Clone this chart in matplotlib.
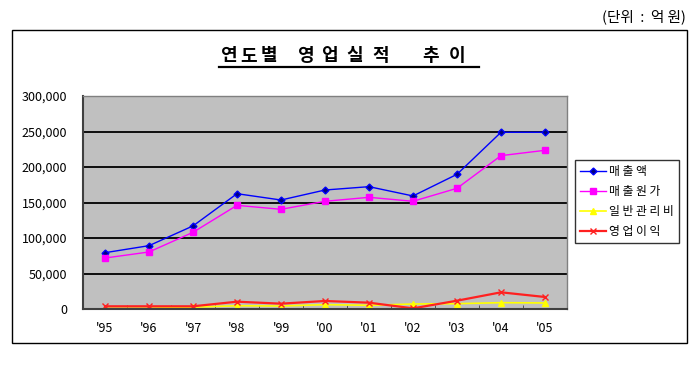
import matplotlib
matplotlib.use("Agg")
import matplotlib.pyplot as plt
from matplotlib.patches import Rectangle
from matplotlib.ticker import FuncFormatter, FixedLocator
import numpy as np

plt.rcParams['font.family'] = ['Noto Sans CJK KR', 'DejaVu Sans']

years = ["'95", "'96", "'97", "'98", "'99", "'00", "'01", "'02", "'03", "'04", "'05"]
sales = [79300, 89200, 117000, 162400, 153500, 167600, 172300, 159200, 189700, 248900, 248900]
cost = [71800, 80300, 108000, 146000, 140400, 151700, 157300, 151700, 170000, 216000, 223500]
admin = [1000, 1200, 2500, 4600, 4200, 6100, 5200, 7000, 7500, 8900, 8500]
profit = [3800, 3800, 3800, 10300, 7500, 11300, 8900, 900, 11700, 23500, 16900]
labels = ["매 출 액", "매 출 원 가", "일 반 관 리 비", "영 업 이 익"]
title = "연도별 영업실적 추이"
unit_label = "(단위  :  억 원)"

W, H = 699, 367
fig = plt.figure(figsize=(W/100, H/100), dpi=100)
fig.patch.set_facecolor('white')

def fx(px):
    return px / W

def fy(py):
    return 1 - py / H

# outer frame
fig.patches.append(Rectangle((fx(12), fy(343)), (687-12)/W, (343-30)/H,
                             transform=fig.transFigure, fill=False, edgecolor='black', lw=1.0))

fig.text(fx(686), fy(17), unit_label, ha='right', va='center', fontsize=10.5)

# title drawn character by character for wide letter spacing
title_chars = [c for c in title if c != ' ']
char_px = [228, 248.5, 269, 305, 329, 355, 381, 431, 457]
for c, px in zip(title_chars, char_px):
    fig.text(fx(px), fy(55.5), c, ha='center', va='center', fontsize=13, fontweight='bold')
fig.add_artist(plt.Line2D([fx(219), fx(479)], [fy(67.3), fy(67.3)], color='black', lw=1.6,
                          transform=fig.transFigure))

ax = fig.add_axes([fx(83), fy(309), (567-83)/W, (309-96)/H])
ax.set_facecolor('#C0C0C0')
x = np.arange(len(years))
ax.plot(x, sales, color='#0000FF', lw=1.0, marker='D', ms=3.5, mfc='#000080', mec='#0000FF', label=labels[0])
ax.plot(x, cost, color='#FF00FF', lw=1.0, marker='s', ms=5, label=labels[1])
ax.plot(x, admin, color='#FFFF00', lw=1.2, marker='^', ms=5, label=labels[2])
ax.plot(x, profit, color='#FF2020', lw=1.6, marker='x', ms=4, mew=1.0, label=labels[3])

ax.set_xlim(-0.5, len(years) - 0.5)
ax.set_ylim(0, 300000)
ax.set_yticks(np.arange(0, 300001, 50000))
ax.yaxis.set_major_formatter(FuncFormatter(lambda v, p: f"{int(v):,}"))
ax.grid(axis='y', color='black', lw=1.3)
ax.set_axisbelow(True)
ax.set_xticks(x)
ax.set_xticklabels(years)
ax.xaxis.set_minor_locator(FixedLocator(np.arange(-0.5, len(years), 1.0)))
ax.tick_params(axis='x', which='major', length=0, pad=9, labelsize=9)
ax.tick_params(axis='x', which='minor', length=3, direction='in', color='#404040')
ax.tick_params(axis='y', length=0, pad=11.5, labelsize=9)
for s in ['left', 'bottom']:
    ax.spines[s].set_color('#404040')
    ax.spines[s].set_linewidth(1.5)
for s in ['top', 'right']:
    ax.spines[s].set_color('#808080')
    ax.spines[s].set_linewidth(1.0)

leg = fig.legend(loc='upper left', bbox_to_anchor=(fx(575), fy(160)), frameon=True,
                 fancybox=False, edgecolor='black', fontsize=8.5, handlelength=2.2,
                 borderpad=0.4, labelspacing=0.6, handletextpad=0.3, borderaxespad=0)
leg.get_frame().set_linewidth(1.0)

fig.savefig("out.png", dpi=100)
